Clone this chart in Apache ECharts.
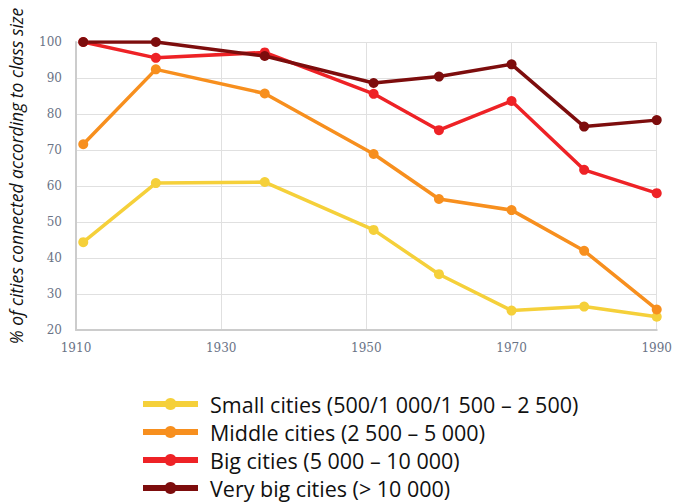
<!DOCTYPE html>
<html>
<head>
<meta charset="utf-8">
<script src="https://cdn.jsdelivr.net/npm/echarts@6/dist/echarts.min.js"></script>
<style>
  html, body { margin: 0; padding: 0; background: #fff; }
  #chart { width: 675px; height: 503px; }
</style>
</head>
<body>
<div id="chart"></div>
<script>
// census years (read from the point positions)
var years = [1911, 1921, 1936, 1951, 1960, 1970, 1980, 1990];
var small = [44.4, 60.8, 61.1, 47.8, 35.5, 25.4, 26.5, 23.7];
var middle = [71.6, 92.4, 85.7, 68.9, 56.4, 53.3, 42.0, 25.7];
var big = [100, 95.6, 97.1, 85.6, 75.5, 83.6, 64.5, 58.0];
var veryBig = [100, 100, 96.1, 88.6, 90.4, 93.8, 76.5, 78.3];
var names = [
  'Small cities (500/1 000/1 500 \u2013 2 500)',
  'Middle cities (2 500 \u2013 5 000)',
  'Big cities (5 000 \u2013 10 000)',
  'Very big cities (> 10 000)'
];
var colors = ['#f5d03a', '#f78f1e', '#ee2226', '#7d0d0d'];

function pairs(vals) {
  return years.map(function (y, i) { return [y, vals[i]]; });
}

var chart = echarts.init(document.getElementById('chart'), null, { renderer: 'svg' });
var tickFont = { color: '#6a7386', fontFamily: 'DejaVu Serif', fontSize: 12 };

chart.setOption({
  animation: false,
  color: colors,
  grid: { left: 76, right: 11, top: 42, bottom: 173 },
  xAxis: {
    type: 'value', min: 1910, max: 1990, interval: 20,
    axisLine: { lineStyle: { color: '#cccccc', width: 2 } },
    axisTick: { show: false },
    axisLabel: { ...tickFont, margin: 12, formatter: function (v) { return String(v); } },
    splitLine: { lineStyle: { color: '#e0e0e0' } }
  },
  yAxis: {
    type: 'value', min: 20, max: 100, interval: 10,
    axisLine: { show: true, lineStyle: { color: '#cccccc', width: 2 } },
    axisTick: { show: false },
    axisLabel: { ...tickFont, margin: 14 },
    splitLine: { lineStyle: { color: '#e0e0e0' } }
  },
  legend: {
    orient: 'vertical', left: 140, top: 393, padding: 0,
    itemWidth: 55, itemHeight: 15, itemGap: 6,
    data: names,
    lineStyle: { width: 6 },
    textStyle: { fontFamily: 'Open Sans', fontSize: 21.5, lineHeight: 22, color: '#111', padding: [0, 0, 0, 7] }
  },
  graphic: [{
    type: 'text', x: 16, y: 176, rotation: Math.PI / 2,
    style: {
      text: '% of cities connected according to class size',
      font: 'italic 17.5px "Open Sans"', fill: '#111',
      align: 'center', verticalAlign: 'middle'
    }
  }],
  series: [small, middle, big, veryBig].map(function (vals, i) {
    return {
      name: names[i], type: 'line', data: pairs(vals),
      symbol: 'circle', symbolSize: 10,
      lineStyle: { width: 3.5, color: colors[i] },
      itemStyle: { color: colors[i] }
    };
  })
});
</script>
</body>
</html>
